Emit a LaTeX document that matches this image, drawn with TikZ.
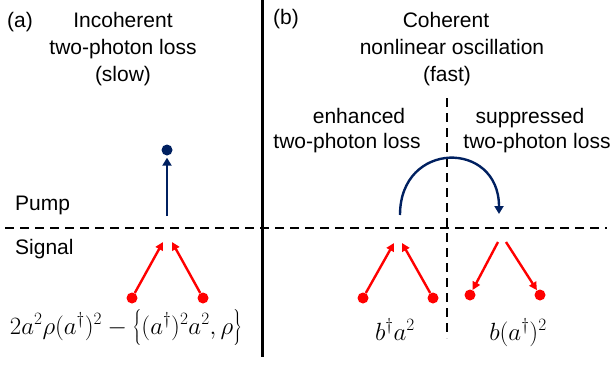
\documentclass[tikz,border=0pt]{standalone}
\usepackage[no-math]{fontspec}
\setmainfont{Liberation Sans}
\usetikzlibrary{arrows.meta}
\definecolor{navy}{RGB}{0,32,96}
\newcommand{\tallstrut}{\vrule height 24pt depth 9pt width 0pt}
\tikzset{
  dot/.style={circle, fill, inner sep=0pt, minimum size=11pt},
  dashline/.style={line width=2.6pt, dash pattern=on 9pt off 6pt},
  redarrow/.style={red, line width=2.4pt, -{Triangle[length=8pt,width=8pt]}},
  bluearrow/.style={navy, line width=2.4pt, -{Triangle[length=8pt,width=9pt]}},
  lbl/.style={anchor=base, inner sep=0pt},
  oplbl/.style={lbl, font=\fontsize{25}{30}\selectfont},
}
\begin{document}
\begin{tikzpicture}[x=1pt, y=-1pt, font=\fontsize{21}{25}\selectfont]
  \useasboundingbox (0,0) rectangle (611,367);
  % frame lines
  \draw[line width=3pt] (262,0) -- (262,357);
  \draw[dashline] (5,228) -- (607,228);
  \draw[dashline] (447,98) -- (447,338);

  % (a) incoherent
  \node[lbl, anchor=base west] (tagA) at (7,27) {(a)};
  \node[lbl] (titA1) at (123,27) {Incoherent};
  \node[lbl] (titA2) at (123,54) {two-photon loss};
  \node[lbl] (titA3) at (123,81) {(slow)};
  \node[lbl, anchor=base west] (pump) at (15,210) {Pump};
  \node[lbl, anchor=base west] (signal) at (15,254) {Signal};

  \node[dot, navy] (pumpA) at (167,150) {};
  \coordinate (pumpAin) at (167,216);
  \draw[bluearrow, shorten >=2pt] (pumpAin) -- (pumpA);

  \node[dot, red] (sigA1) at (132,298) {};
  \node[dot, red] (sigA2) at (203,298) {};
  \coordinate (joinA1) at (163,242);
  \coordinate (joinA2) at (172,242);
  \draw[redarrow] (sigA1) -- (joinA1);
  \draw[redarrow] (sigA2) -- (joinA2);

  \node[oplbl] (lossA) at (126,334)
    {$2a^2\rho(a^\dagger)^2-\left\{\tallstrut(a^\dagger)^2a^2,\rho\right\}$};

  % (b) coherent
  \node[lbl, anchor=base west] (tagB) at (273,24) {(b)};
  \node[lbl] (titB1) at (446,27) {Coherent};
  \node[lbl] (titB2) at (452,54) {nonlinear oscillation};
  \node[lbl] (titB3) at (447,81) {(fast)};
  \node[lbl] (enh1) at (359,123) {enhanced};
  \node[lbl] (enh2) at (347,148) {two-photon loss};
  \node[lbl] (sup1) at (530,123) {suppressed};
  \node[lbl] (sup2) at (537,148) {two-photon loss};

  \coordinate (swapL) at (400,215);
  \coordinate (swapR) at (499,214);
  \draw[bluearrow] (swapL) .. controls (400,140) and (499,140) .. (swapR);

  \node[dot, red] (sigB1) at (363,298) {};
  \node[dot, red] (sigB2) at (433,298) {};
  \coordinate (joinB1) at (394,243);
  \coordinate (joinB2) at (402,243);
  \draw[redarrow] (sigB1) -- (joinB1);
  \draw[redarrow] (sigB2) -- (joinB2);

  \node[dot, red] (sigB3) at (470,295) {};
  \node[dot, red] (sigB4) at (540,295) {};
  \coordinate (splitB1) at (498,242);
  \coordinate (splitB2) at (506,242);
  \draw[redarrow] (splitB1) -- (sigB3);
  \draw[redarrow] (splitB2) -- (sigB4);

  \node[oplbl] (enhOp) at (395,340) {$b^\dagger a^2$};
  \node[oplbl] (supOp) at (518,340) {$b(a^\dagger)^2$};
\end{tikzpicture}
\end{document}
